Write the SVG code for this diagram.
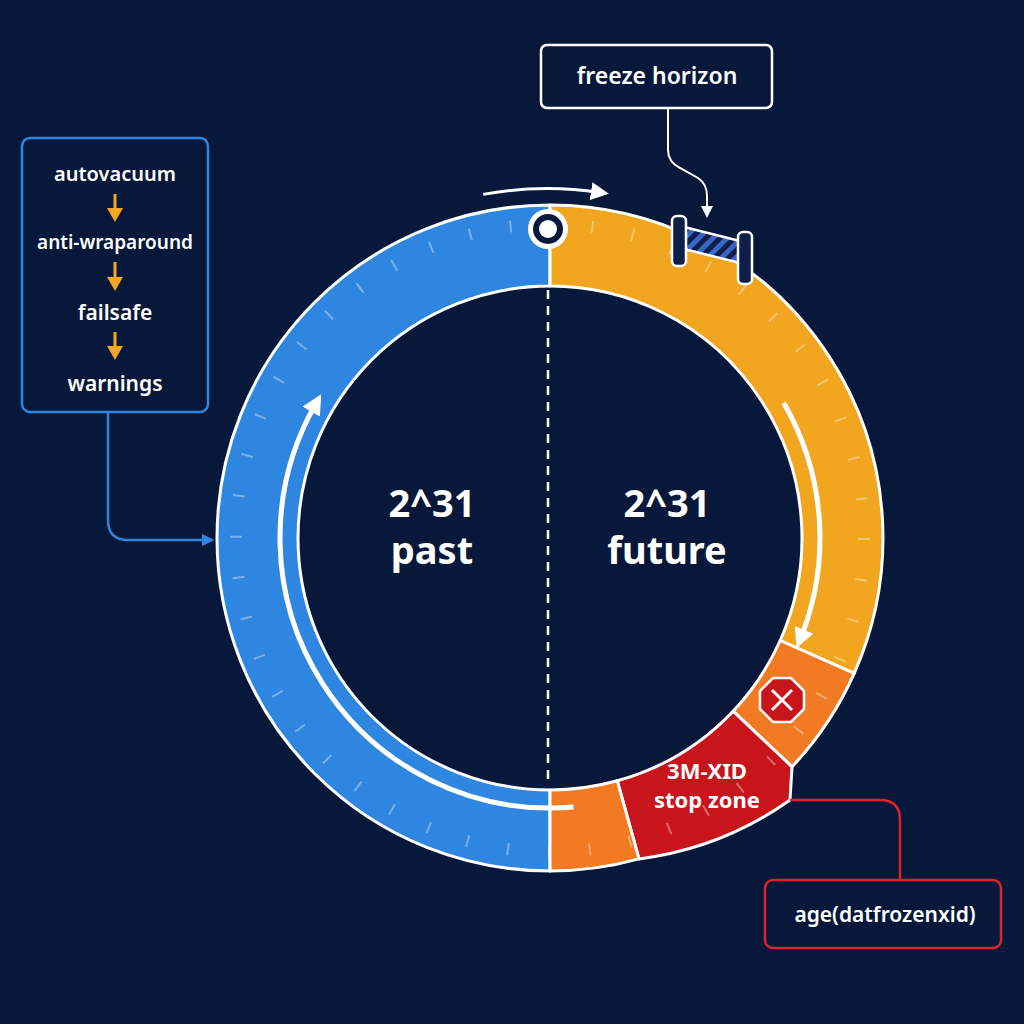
<svg xmlns="http://www.w3.org/2000/svg" width="1024" height="1024" viewBox="0 0 1024 1024">
<defs>
<style>
.seg{stroke:#fff;stroke-width:3;stroke-linejoin:round}
.lbl{font-family:"Noto Sans","DejaVu Sans",sans-serif;fill:#fff}
.sm{font-weight:600}
.box{fill:#07183a;stroke-width:2.5}
.oarr{fill:#f5a623}
.post{fill:#0e1f4a;stroke:#fff;stroke-width:2.5}
</style>
<marker id="wa" viewBox="0 0 10 10" refX="5" refY="5" markerWidth="4" markerHeight="4" orient="auto"><path d="M0,0L10,5L0,10z" fill="#fff"/></marker>
<marker id="ba" viewBox="0 0 10 10" refX="5" refY="5" markerWidth="5" markerHeight="5" orient="auto"><path d="M0,0L10,5L0,10z" fill="#2f86e0"/></marker>
<marker id="fa" viewBox="0 0 10 10" refX="5" refY="5" markerWidth="6" markerHeight="6" orient="auto"><path d="M0,0L10,5L0,10z" fill="#fff"/></marker>
<pattern id="stripe" width="10" height="10" patternUnits="userSpaceOnUse" patternTransform="rotate(45)"><rect width="10" height="10" fill="#0e1f4a"/><rect width="5" height="10" fill="#3a66c4"/></pattern>
</defs>
<rect width="1024" height="1024" fill="#07183a"/>
<g id="ring">
<path class="seg" fill="#2f86e0" d="M550,205 A333,333 0 0 0 550,871 L550,790 A252,252 0 0 1 550,286 Z"/>
<path class="seg" fill="#f2a51f" d="M550,205 A333,333 0 0 1 854.2,673.4 L780.2,640.5 A252,252 0 0 0 550,286 Z"/>
<path class="seg" fill="#f27a22" d="M854.2,673.4 A333,333 0 0 1 792,766.8 L733.1,711.2 A252,252 0 0 0 780.2,640.5 Z"/>
<path class="seg" fill="#c8151c" d="M792,766.8 L790,800 A333,333 0 0 1 639,858.9 L617.3,780.8 A252,252 0 0 0 733.1,711.2 Z"/>
<path class="seg" fill="#f27a22" d="M639,858.9 A333,333 0 0 1 550,871 L550,790 A252,252 0 0 0 617.3,780.8 Z"/>
<circle cx="550" cy="538" r="314" fill="none" stroke="#fff" stroke-opacity="0.35" stroke-width="12" stroke-dasharray="2 39.1"/>
<line x1="548" y1="290" x2="548" y2="785" stroke="#fff" stroke-width="2.5" stroke-dasharray="9 7"/>
<path d="M573.5,807 A270,270 0 0 1 316.2,403" fill="none" stroke="#fff" stroke-width="5" marker-end="url(#wa)"/>
<path d="M783.8,403 A270,270 0 0 1 800.3,639.1" fill="none" stroke="#fff" stroke-width="5" marker-end="url(#wa)"/>
<path d="M483.2,194.4 A350,350 0 0 1 600,192.5" fill="none" stroke="#fff" stroke-width="3" marker-end="url(#fa)"/>
</g>
<g id="marker">
<circle cx="548" cy="229" r="20" fill="#fff"/>
<circle cx="548" cy="229" r="15" fill="#07183a"/>
<circle cx="548" cy="229" r="9" fill="#fff"/>
</g>
<g id="fence">
<polygon points="680,226 744,242 744,264 680,248" fill="url(#stripe)" stroke="#fff" stroke-width="2.5"/>
<rect x="672" y="216" width="14" height="50" rx="5" class="post"/>
<rect x="738" y="232" width="14" height="52" rx="5" class="post"/>
</g>
<g id="stop">
<polygon points="773,678 791,678 804,691 804,709 791,722 773,722 760,709 760,691" fill="#c8151c" stroke="#fff" stroke-width="2.5"/>
<path d="M772,690L792,710M792,690L772,710" stroke="#fff" stroke-width="3"/>
</g>
<g id="labels">
<text class="lbl" x="432" y="517" font-size="38" font-weight="bold" text-anchor="middle">2^31</text>
<text class="lbl" x="432" y="564" font-size="38" font-weight="bold" text-anchor="middle">past</text>
<text class="lbl" x="667" y="517" font-size="38" font-weight="bold" text-anchor="middle">2^31</text>
<text class="lbl" x="667" y="564" font-size="38" font-weight="bold" text-anchor="middle">future</text>
<text class="lbl" x="707" y="779" font-size="22" font-weight="bold" text-anchor="middle">3M-XID</text>
<text class="lbl" x="707" y="808" font-size="22" font-weight="bold" text-anchor="middle">stop zone</text>
</g>
<g id="cascade">
<rect class="box" x="22" y="138" width="186" height="274" rx="8" stroke="#2f86e0"/>
<text class="lbl sm" x="115" y="181" font-size="20" text-anchor="middle">autovacuum</text>
<text class="lbl sm" x="115" y="249" font-size="19" text-anchor="middle">anti-wraparound</text>
<text class="lbl sm" x="115" y="320" font-size="21" text-anchor="middle">failsafe</text>
<text class="lbl sm" x="115" y="391" font-size="21" text-anchor="middle">warnings</text>
</g>
<g id="horizon">
<rect class="box" x="541" y="45" width="231" height="63" rx="6" stroke="#fff"/>
<text class="lbl sm" x="657" y="84" font-size="23" text-anchor="middle">freeze horizon</text>
</g>
<g id="age">
<rect class="box" x="765" y="880" width="236" height="68" rx="8" stroke="#e0232a"/>
<text class="lbl sm" x="885" y="922" font-size="21" text-anchor="middle">age(datfrozenxid)</text>
</g>
<g id="connectors" fill="none">
<path d="M115,194V210" stroke="#f5a623" stroke-width="3"/>
<path class="oarr" d="M107,208H123L115,222Z"/>
<path d="M115,262V279" stroke="#f5a623" stroke-width="3"/>
<path class="oarr" d="M107,277H123L115,291Z"/>
<path d="M115,332V348" stroke="#f5a623" stroke-width="3"/>
<path class="oarr" d="M107,346H123L115,360Z"/>
<path d="M108,412V520Q108,540 128,540H208" stroke="#2f86e0" stroke-width="2.5" marker-end="url(#ba)"/>
<path d="M668,108V150Q668,162 680,168L698,178Q707,184 707,196V212" stroke="#fff" stroke-width="2" marker-end="url(#fa)"/>
<path d="M790,800H880Q900,800 900,820V880" stroke="#e0232a" stroke-width="2.5"/>
</g>
</svg>
